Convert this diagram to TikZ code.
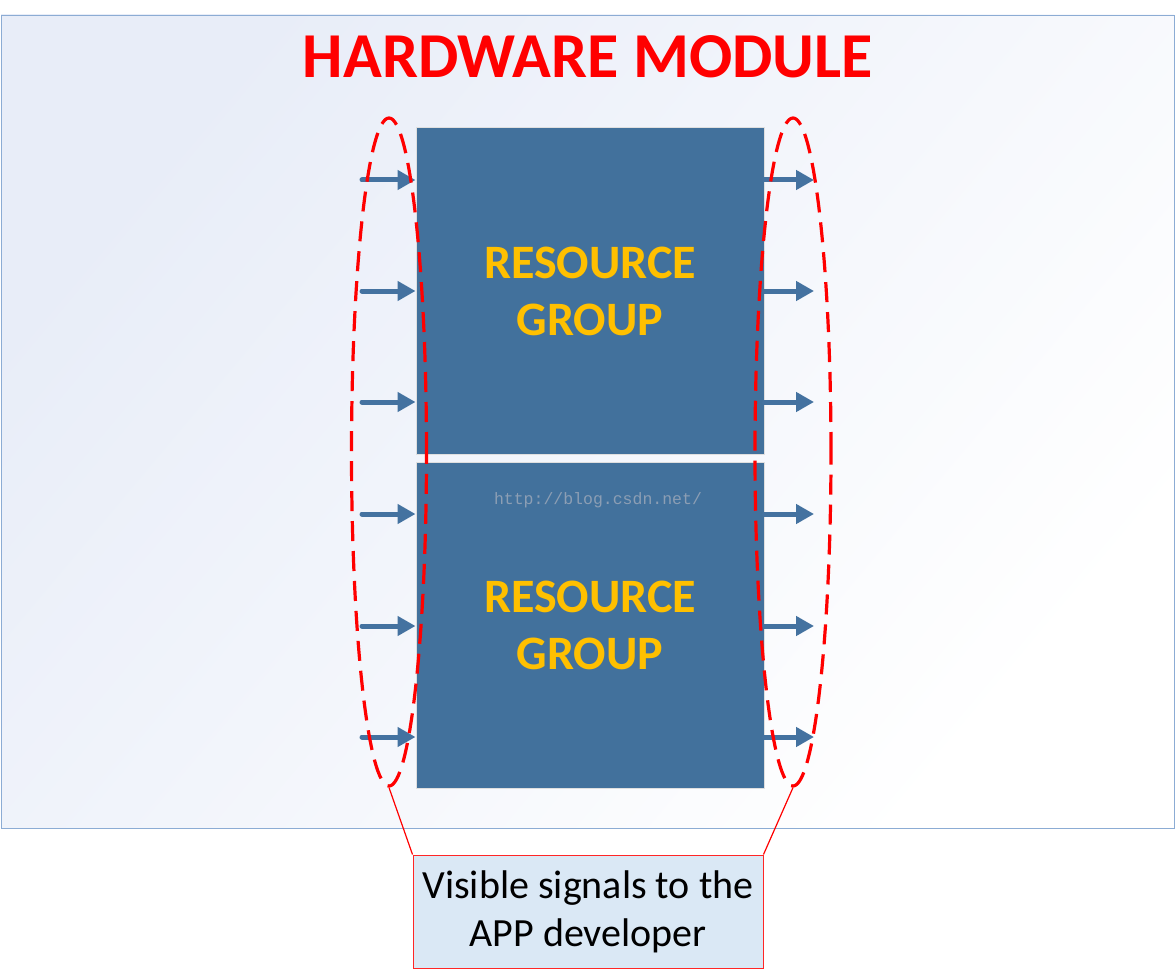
\documentclass[tikz,border=0pt]{standalone}
\usepackage{fontspec}
\setmainfont{Carlito}
\setmonofont{Liberation Mono}
\usetikzlibrary{
arrows.meta,
positioning,
shapes.geometric
}
\definecolor{rgblue}{RGB}{66,113,156}
\definecolor{sigblue}{RGB}{68,114,160}
\definecolor{rgorange}{RGB}{255,192,0}
\definecolor{notefill}{RGB}{218,232,245}
\definecolor{framecol}{RGB}{140,172,212}
\definecolor{framefill}{RGB}{232,237,248}
\definecolor{markcol}{RGB}{140,158,180}
\tikzset{>=latex}
\tikzset{
	module/.style={draw=framecol, line width=0.9pt, minimum width=1173pt, minimum height=813pt, inner sep=0pt, top color=framefill, bottom color=white, shading angle=50},
	rgbox/.style={draw=gray!25, line width=1pt, fill=rgblue, minimum width=348pt, minimum height=326pt, inner sep=0pt, text=rgorange, align=center, font=\fontsize{48}{57}\selectfont\bfseries},
	sigloop/.style={ellipse, draw=red, line width=3.2pt, dash pattern=on 20pt off 10pt, inner sep=0pt},
	signal/.style={draw=sigblue, line width=5pt, line cap=round, -{Triangle[length=18pt,width=19pt]}},
	notebox/.style={draw=red!85, line width=1pt, fill=notefill, minimum width=350pt, minimum height=113pt, inner sep=0pt, align=center, font=\fontsize{40}{48}\selectfont}
}

\begin{document}
\begin{tikzpicture}[x=1pt, y=-1pt]
	\useasboundingbox (0,0) rectangle (1176,979);
	\node[module] (frame) at (587.5,421.5) {};
	\node[text=red, font=\fontsize{64}{70}\selectfont\bfseries] (title) at (588,57) {HARDWARE MODULE};
	% the two resource groups
	\node[rgbox] (top) at (590,291) {RESOURCE\\GROUP};
	\node[rgbox] (bot) at (590,625) {RESOURCE\\GROUP};
	\node[text=markcol, font=\fontsize{16.5}{18}\selectfont\ttfamily] (mark) at (598,500) {http://blog.csdn.net/};
	% signals in and out
	\foreach \y [count=\i] in {180,291,402,514,626,737} {
		\coordinate (in\i) at (362,\y);
		\coordinate (out\i) at (814,\y);
		\draw[signal] (in\i) -- (in\i -| top.west);
		\draw[signal] (out\i -| top.east) -- (out\i);
	}
	\node[sigloop, minimum width=75pt, minimum height=668pt] (lsig) at (389,452) {};
	\node[sigloop, minimum width=76pt, minimum height=668pt] (rsig) at (793,452) {};
	% callout
	\node[notebox] (note) at (588,911.5) {Visible signals to the\\APP developer};
	\draw[red, line width=1.2pt] (lsig.south) -- (note.north west);
	\draw[red, line width=1.2pt] (rsig.south) -- (note.north east);
\end{tikzpicture}
\end{document}
